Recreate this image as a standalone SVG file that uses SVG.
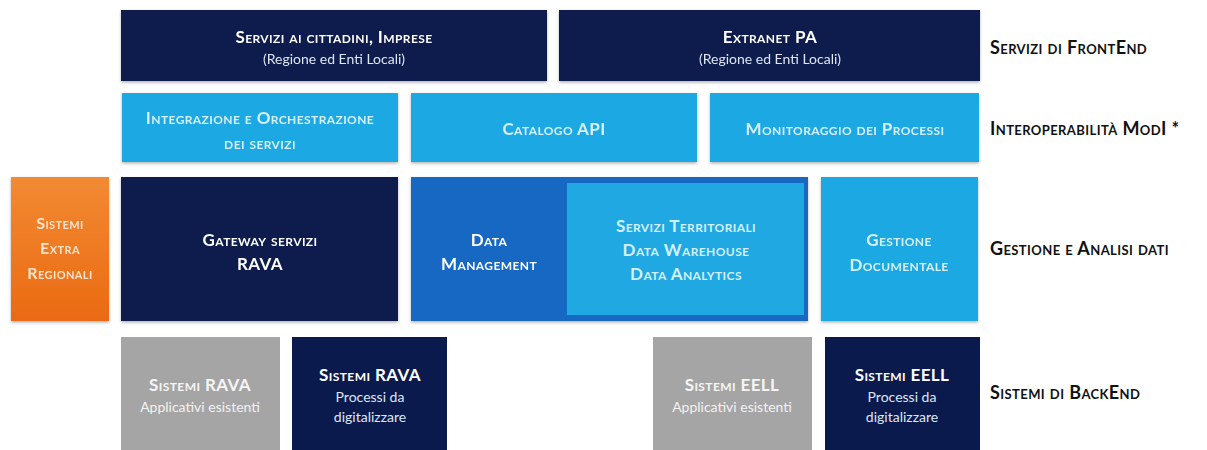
<svg xmlns="http://www.w3.org/2000/svg" width="1207" height="450" viewBox="0 0 1207 450">
<style>
text{font-family:Lato,"Open Sans","Liberation Sans",sans-serif;text-anchor:middle;dominant-baseline:central}
.sc{font-variant:small-caps;font-weight:bold;letter-spacing:0.4px}
.t{font-size:17px;fill:#ffffff}
.tl{font-size:17px;fill:#d4f0fb}
.sub{font-size:14px;fill:#dfe6f5}
.subg{font-size:14px;fill:#f2f2f2}
.lab{font-size:18px;fill:#111111;text-anchor:start}
.dark{fill:#0b1a4d}
.light{fill:#1fa8e2}
.mid{fill:#1467c2}
.grey{fill:#a5a5a5}
</style>
<defs>
<linearGradient id="og" x1="0" y1="0" x2="0" y2="1">
<stop offset="0" stop-color="#f28a33"/>
<stop offset="1" stop-color="#ea6a12"/>
</linearGradient>
<filter id="sh" x="-5%" y="-5%" width="110%" height="115%">
<feDropShadow dx="0" dy="1.5" stdDeviation="1.5" flood-color="#000" flood-opacity="0.3"/>
</filter>
</defs>
<rect width="1207" height="450" fill="#ffffff"/>

<g id="servizi-cittadini" filter="url(#sh)">
<rect class="dark" x="121" y="10" width="426" height="71"/>
<text class="sc t" x="334" y="36">Servizi ai cittadini, Imprese</text>
<text class="sub" x="334" y="58">(Regione ed Enti Locali)</text>
</g>
<g id="extranet-pa" filter="url(#sh)">
<rect class="dark" x="559" y="10" width="421" height="71"/>
<text class="sc t" x="770" y="36">Extranet PA</text>
<text class="sub" x="770" y="58">(Regione ed Enti Locali)</text>
</g>

<g id="integrazione" filter="url(#sh)">
<rect class="light" x="122" y="93" width="276" height="69"/>
<text class="sc tl" x="260" y="117">Integrazione e Orchestrazione</text>
<text class="sc tl" x="260" y="142">dei servizi</text>
</g>
<g id="catalogo-api" filter="url(#sh)">
<rect class="light" x="411" y="93" width="286" height="69"/>
<text class="sc tl" x="554" y="128">Catalogo API</text>
</g>
<g id="monitoraggio" filter="url(#sh)">
<rect class="light" x="710" y="93" width="269" height="69"/>
<text class="sc tl" x="845" y="128">Monitoraggio dei Processi</text>
</g>

<g id="sistemi-extra" filter="url(#sh)">
<rect fill="url(#og)" x="11" y="177" width="98" height="144"/>
<text class="sc" style="font-size:16px;fill:#fbe3cc" x="60" y="222">Sistemi</text>
<text class="sc" style="font-size:16px;fill:#fbe3cc" x="60" y="247">Extra</text>
<text class="sc" style="font-size:16px;fill:#fbe3cc" x="60" y="272">Regionali</text>
</g>
<g id="gateway" filter="url(#sh)">
<rect class="dark" x="121" y="177" width="277" height="144"/>
<text class="sc t" x="260" y="239">Gateway servizi</text>
<text class="sc t" x="260" y="263">RAVA</text>
</g>
<g id="data-management" filter="url(#sh)">
<rect class="mid" x="411" y="177" width="397" height="144"/>
<text class="sc t" x="489" y="239">Data</text>
<text class="sc t" x="489" y="263">Management</text>
</g>
<g id="servizi-territoriali">
<rect class="light" x="567" y="183" width="237" height="132"/>
<text class="sc tl" x="686" y="225">Servizi Territoriali</text>
<text class="sc tl" x="686" y="249">Data Warehouse</text>
<text class="sc tl" x="686" y="273">Data Analytics</text>
</g>
<g id="gestione-documentale" filter="url(#sh)">
<rect class="light" x="821" y="177" width="157" height="144"/>
<text class="sc tl" x="899" y="239">Gestione</text>
<text class="sc tl" x="899" y="264">Documentale</text>
</g>

<g id="sistemi-rava-esistenti">
<rect class="grey" x="121" y="337" width="159" height="113"/>
<text class="sc" style="font-size:17px;fill:#f5f5f5" x="200" y="384">Sistemi RAVA</text>
<text class="subg" x="200" y="406">Applicativi esistenti</text>
</g>
<g id="sistemi-rava-processi">
<rect class="dark" x="292" y="337" width="155" height="113"/>
<text class="sc t" x="370" y="374">Sistemi RAVA</text>
<text class="sub" x="370" y="396">Processi da</text>
<text class="sub" x="370" y="416">digitalizzare</text>
</g>
<g id="sistemi-eell-esistenti">
<rect class="grey" x="653" y="337" width="159" height="113"/>
<text class="sc" style="font-size:17px;fill:#f5f5f5" x="732" y="384">Sistemi EELL</text>
<text class="subg" x="732" y="406">Applicativi esistenti</text>
</g>
<g id="sistemi-eell-processi">
<rect class="dark" x="825" y="337" width="155" height="113"/>
<text class="sc t" x="902" y="374">Sistemi EELL</text>
<text class="sub" x="902" y="396">Processi da</text>
<text class="sub" x="902" y="416">digitalizzare</text>
</g>

<g id="labels">
<text class="sc lab" x="990" y="47">Servizi di FrontEnd</text>
<text class="sc lab" x="990" y="128">Interoperabilità ModI *</text>
<text class="sc lab" x="990" y="248">Gestione e Analisi dati</text>
<text class="sc lab" x="990" y="392">Sistemi di BackEnd</text>
</g>
<g id="connectors"></g>
</svg>
